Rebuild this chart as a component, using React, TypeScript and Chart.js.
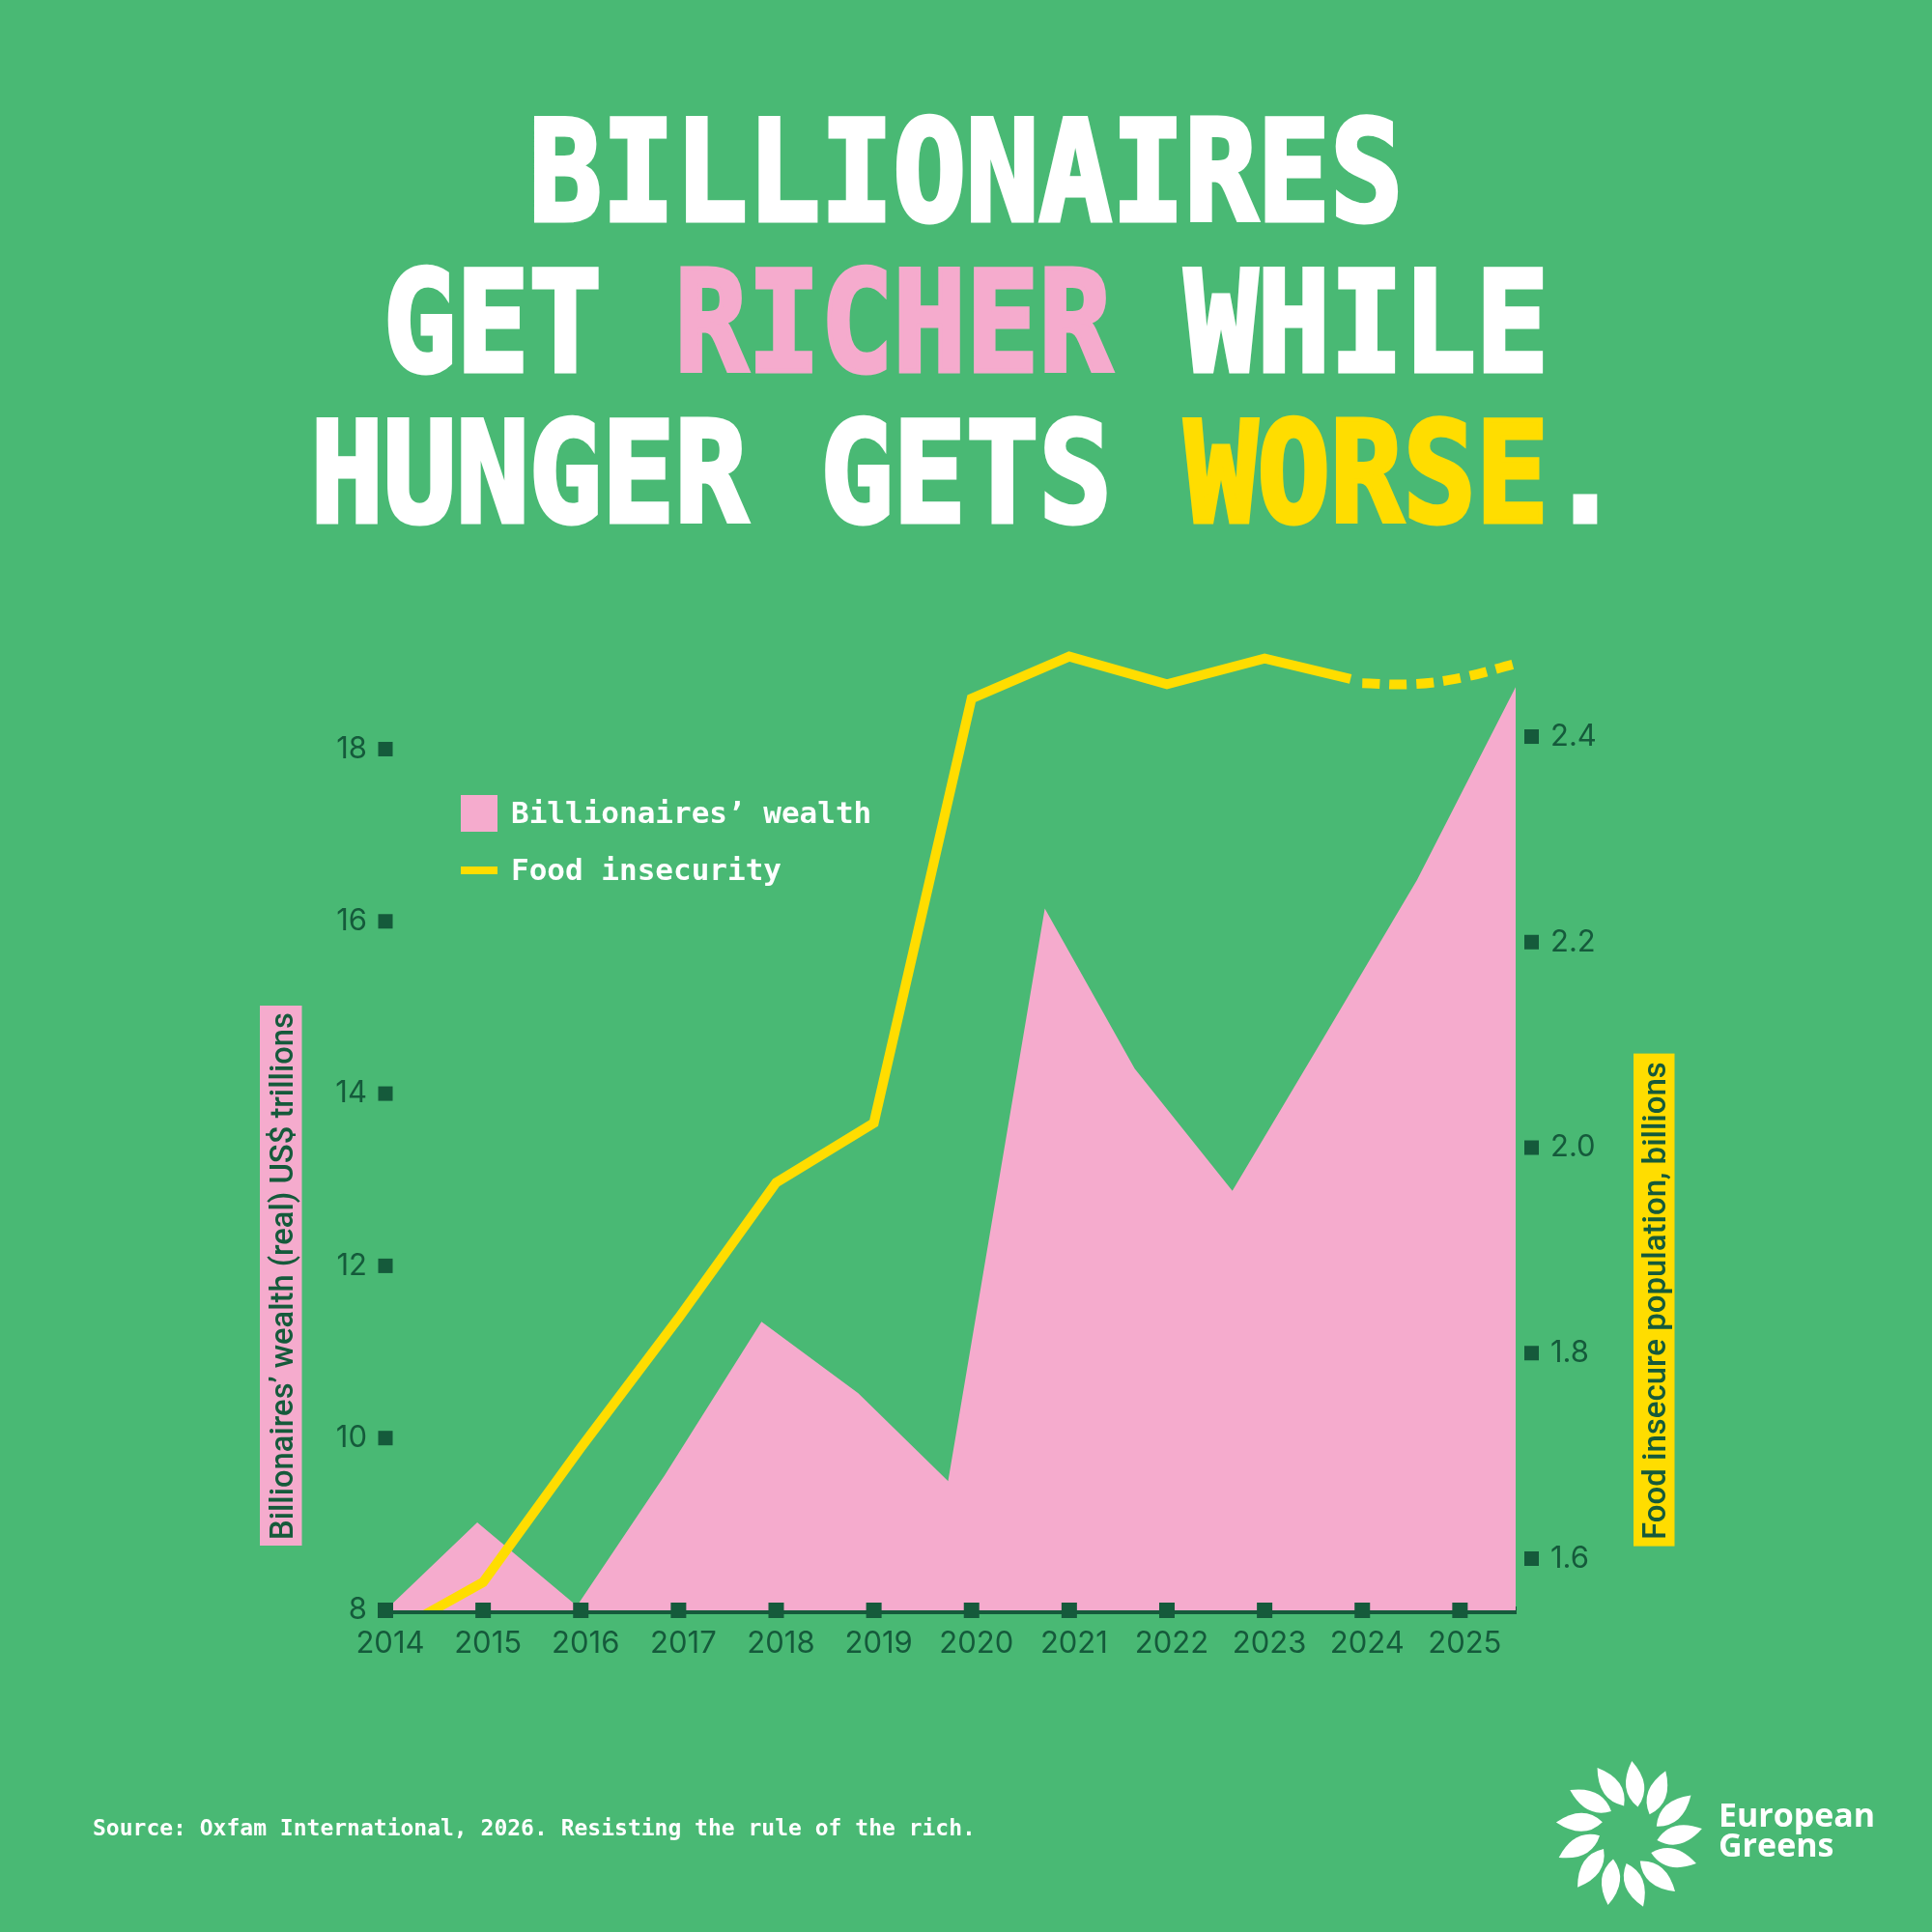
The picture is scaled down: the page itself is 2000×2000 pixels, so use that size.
import React, { useEffect, useRef } from 'react';
import { Chart, registerables } from 'chart.js';

Chart.register(...registerables);

// ---------- data ----------
const xTickYears = [2014, 2015, 2016, 2017, 2018, 2019, 2020, 2021, 2022, 2023, 2024, 2025];
const xTickLabels = ['2014', '2015', '2016', '2017', '2018', '2019', '2020', '2021', '2022', '2023', '2024', '2025'];

const wealthTicks = [8, 10, 12, 14, 16, 18];
const wealthTickLabels = ['8', '10', '12', '14', '16', '18'];
const hungerTicks = [1.6, 1.8, 2.0, 2.2, 2.4];
const hungerTickLabels = ['1.6', '1.8', '2.0', '2.2', '2.4'];

// Billionaires' wealth (real) US$ trillions
const wealthYears = [2014, 2014.94, 2015.96, 2016.86, 2017.85, 2018.84, 2019.76, 2020.75, 2021.67, 2022.67, 2023.61, 2024.56, 2025.57];
const wealthValues = [8.0, 9.02, 8.05, 9.57, 11.35, 10.52, 9.5, 16.15, 14.29, 12.87, 14.66, 16.48, 18.72];

// Food insecure population, billions
const hungerYears = [2014, 2015, 2016, 2017, 2018, 2019, 2020, 2021, 2022, 2023, 2023.88];
const hungerValues = [1.524, 1.577, 1.708, 1.834, 1.966, 2.024, 2.437, 2.478, 2.451, 2.476, 2.456];
const projectionYears = [2024, 2024.5, 2025, 2025.57];
const projectionValues = [2.452, 2.451, 2.457, 2.471];

const X_MIN = 2014;
const X_MAX = 2025.57;
const WEALTH_MIN = 8;
const WEALTH_MAX = 19.744;
const HUNGER_MIN = 1.5497;
const HUNGER_MAX = 2.534;

// ---------- styles ----------
const BG = '#49B974';
const PINK = '#F5ABCD';
const YELLOW = '#FFDD00';
const DARK = '#155A3B';
const WHITE = '#FFFFFF';

const titleLines: [string, string][][] = [
  [['BILLIONAIRES', WHITE]],
  [['GET ', WHITE], ['RICHER', PINK], [' WHILE', WHITE]],
  [['HUNGER GETS ', WHITE], ['WORSE', YELLOW], ['.', WHITE]],
];
const titleBaselines = [228, 384, 540];
const legendWealth = 'Billionaires\u2019 wealth';
const legendHunger = 'Food insecurity';
const leftTitle = 'Billionaires\u2019 wealth (real) US$ trillions';
const rightTitle = 'Food insecure population, billions';
const sourceText = 'Source: Oxfam International, 2026. Resisting the rule of the rich.';

function drawTitle(ctx: any) {
  ctx.save();
  ctx.font = 'bold 144px "DejaVu Sans Mono"';
  ctx.textBaseline = 'alphabetic';
  ctx.textAlign = 'left';
  ctx.lineJoin = 'miter';
  const adv = ctx.measureText('M').width;
  const sx = 75.4 / adv;
  titleLines.forEach((segs, li) => {
    const full = segs.map((s) => s[0]).join('');
    const total = ctx.measureText(full).width * sx;
    const startX = 1000 - total / 2;
    let prefix = '';
    segs.forEach(([txt, col]) => {
      const off = ctx.measureText(prefix).width;
      ctx.save();
      ctx.translate(startX, titleBaselines[li]);
      ctx.scale(sx, 1);
      ctx.fillStyle = col;
      ctx.strokeStyle = col;
      ctx.lineWidth = 5;
      ctx.fillText(txt, off, 0);
      ctx.strokeText(txt, off, 0);
      ctx.restore();
      prefix += txt;
    });
  });
  ctx.restore();
}

function drawLegend(ctx: any) {
  ctx.save();
  ctx.fillStyle = PINK;
  ctx.fillRect(477, 823, 38, 38);
  ctx.fillStyle = YELLOW;
  ctx.fillRect(477, 897, 38, 8);
  ctx.fillStyle = WHITE;
  ctx.font = 'bold 31px "DejaVu Sans Mono"';
  ctx.textBaseline = 'alphabetic';
  ctx.textAlign = 'left';
  ctx.fillText(legendWealth, 529, 852);
  ctx.fillText(legendHunger, 529, 911);
  ctx.restore();
}

function drawVerticalTitle(ctx: any, text: string, box: number[], bottom: number, length: number, bg: string) {
  ctx.save();
  ctx.font = '500 30px Roboto';
  const w = ctx.measureText(text).width;
  const size = (30 * length) / w;
  ctx.fillStyle = bg;
  ctx.fillRect(box[0], box[1], box[2], box[3]);
  ctx.font = `500 ${size}px Roboto`;
  ctx.fillStyle = DARK;
  ctx.textAlign = 'left';
  ctx.textBaseline = 'alphabetic';
  const cx = box[0] + box[2] / 2;
  ctx.translate(cx + size * 0.36, bottom);
  ctx.rotate(-Math.PI / 2);
  ctx.fillText(text, 0, 0);
  ctx.restore();
}

function drawTickSquares(chart: any) {
  const ctx = chart.ctx;
  const { x, y, y1 } = chart.scales;
  const area = chart.chartArea;
  ctx.save();
  ctx.fillStyle = DARK;
  y.ticks.forEach((t: any) => {
    const py = y.getPixelForValue(t.value);
    ctx.fillRect(area.left - 7.5, py - 7.5, 15, 15);
  });
  y1.ticks.forEach((t: any) => {
    const py = y1.getPixelForValue(t.value);
    ctx.fillRect(area.right + 9, py - 7.5, 15, 15);
  });
  x.ticks.forEach((t: any) => {
    const px = x.getPixelForValue(t.value);
    ctx.fillRect(px - 8, area.bottom - 8, 16, 16);
  });
  ctx.restore();
}

function drawSource(ctx: any) {
  ctx.save();
  ctx.fillStyle = WHITE;
  ctx.font = 'bold 23px "DejaVu Sans Mono"';
  ctx.textBaseline = 'alphabetic';
  ctx.textAlign = 'left';
  ctx.fillText(sourceText, 96, 1900);
  ctx.restore();
}

function drawLogo(ctx: any) {
  ctx.save();
  ctx.fillStyle = WHITE;
  const cx = 1686;
  const cy = 1899;
  const n = 13;
  for (let i = 0; i < n; i++) {
    const a = (i / n) * Math.PI * 2 + 0.2;
    ctx.save();
    ctx.translate(cx, cy);
    ctx.rotate(a);
    ctx.translate(30, 0);
    ctx.rotate(-0.45);
    ctx.beginPath();
    ctx.moveTo(0, 0);
    ctx.quadraticCurveTo(20, -19, 48, 0);
    ctx.quadraticCurveTo(20, 19, 0, 0);
    ctx.closePath();
    ctx.fill();
    ctx.restore();
  }
  ctx.font = 'bold 34px "Open Sans"';
  ctx.textBaseline = 'alphabetic';
  ctx.textAlign = 'left';
  ctx.fillText('European', 1779, 1891, 162);
  ctx.fillText('Greens', 1779, 1922);
  ctx.restore();
}

const decorPlugin = {
  id: 'decor',
  beforeDraw(chart: any) {
    const ctx = chart.ctx;
    ctx.save();
    ctx.fillStyle = BG;
    ctx.fillRect(0, 0, chart.width, chart.height);
    ctx.restore();
  },
  afterDraw(chart: any) {
    const ctx = chart.ctx;
    drawTitle(ctx);
    drawLegend(ctx);
    drawVerticalTitle(ctx, leftTitle, [269, 1041, 43.5, 559], 1594, 546, PINK);
    drawVerticalTitle(ctx, rightTitle, [1691, 1090.6, 42.5, 510], 1594, 495, YELLOW);
    drawTickSquares(chart);
    drawSource(ctx);
    drawLogo(ctx);
  },
};

export default function App() {
  const ref = useRef<HTMLCanvasElement | null>(null);

  useEffect(() => {
    const canvas = ref.current;
    if (!canvas) return;
    const tickFont = { family: 'Inter', size: 31 };
    const chart = new Chart(canvas, {
      type: 'line',
      data: {
        datasets: [
          {
            label: legendHunger,
            data: hungerYears.map((x, i) => ({ x, y: hungerValues[i] })),
            yAxisID: 'y1',
            borderColor: YELLOW,
            borderWidth: 10,
            borderJoinStyle: 'miter',
            borderCapStyle: 'butt',
            pointRadius: 0,
            fill: false,
            tension: 0,
            clip: 0,
            order: 0,
          },
          {
            label: 'Food insecurity (projection)',
            data: projectionYears.map((x, i) => ({ x, y: projectionValues[i] })),
            yAxisID: 'y1',
            borderColor: YELLOW,
            borderWidth: 10,
            borderDash: [18, 10],
            borderCapStyle: 'butt',
            pointRadius: 0,
            fill: false,
            tension: 0.4,
            clip: 0,
            order: 1,
          },
          {
            label: legendWealth,
            data: wealthYears.map((x, i) => ({ x, y: wealthValues[i] })),
            yAxisID: 'y',
            backgroundColor: PINK,
            borderColor: 'rgba(0,0,0,0)',
            borderWidth: 0,
            pointRadius: 0,
            fill: 'start',
            tension: 0,
            order: 2,
          },
        ],
      } as any,
      options: {
        responsive: false,
        animation: false,
        devicePixelRatio: 1,
        layout: { padding: { top: 620, left: 0, right: 0, bottom: 0 } },
        plugins: {
          legend: { display: false },
          tooltip: { enabled: false },
        },
        scales: {
          x: {
            type: 'linear',
            min: X_MIN,
            max: X_MAX,
            bounds: 'data',
            z: 1,
            afterBuildTicks: (s: any) => {
              s.ticks = xTickYears.map((v) => ({ value: v }));
            },
            afterFit: (s: any) => {
              s.height = 333;
            },
            grid: { drawOnChartArea: false, drawTicks: false },
            border: { display: true, color: DARK, width: 8 },
            ticks: {
              callback: (_v: any, i: number) => xTickLabels[i],
              color: DARK,
              font: tickFont,
              padding: 16,
              labelOffset: 5,
              maxRotation: 0,
              autoSkip: false,
            },
          },
          y: {
            type: 'linear',
            position: 'left',
            min: WEALTH_MIN,
            max: WEALTH_MAX,
            bounds: 'data',
            afterBuildTicks: (s: any) => {
              s.ticks = wealthTicks.map((v) => ({ value: v }));
            },
            afterFit: (s: any) => {
              s.width = 399;
            },
            grid: { drawOnChartArea: false, drawTicks: false },
            border: { display: false },
            ticks: {
              callback: (_v: any, i: number) => wealthTickLabels[i],
              color: DARK,
              font: tickFont,
              padding: 19,
              autoSkip: false,
            },
          },
          y1: {
            type: 'linear',
            position: 'right',
            min: HUNGER_MIN,
            max: HUNGER_MAX,
            bounds: 'data',
            afterBuildTicks: (s: any) => {
              s.ticks = hungerTicks.map((v) => ({ value: v }));
            },
            afterFit: (s: any) => {
              s.width = 431;
            },
            grid: { drawOnChartArea: false, drawTicks: false },
            border: { display: false },
            ticks: {
              callback: (_v: any, i: number) => hungerTickLabels[i],
              color: DARK,
              font: tickFont,
              padding: 36,
              autoSkip: false,
            },
          },
        },
      } as any,
      plugins: [decorPlugin],
    });
    return () => chart.destroy();
  }, []);

  return (
    <div style={{ position: 'fixed', left: 0, top: 0, width: 2000, height: 2000 }}>
      <canvas ref={ref} width={2000} height={2000} style={{ display: 'block', width: 2000, height: 2000 }} />
    </div>
  );
}
